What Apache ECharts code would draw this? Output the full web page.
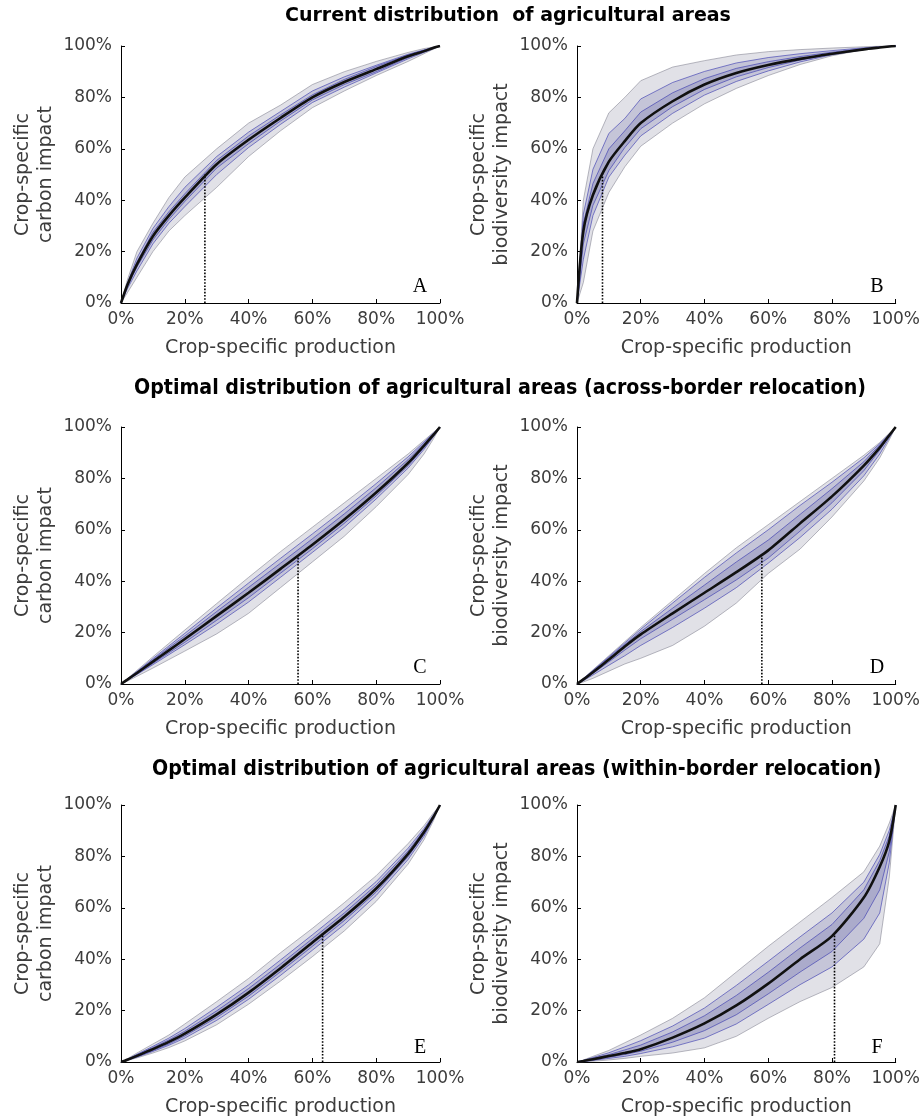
<!DOCTYPE html>
<html>
<head>
<meta charset="utf-8">
<script src="https://cdn.jsdelivr.net/npm/echarts@6/dist/echarts.min.js"></script>
<style>
  html, body { margin: 0; padding: 0; background: #fff; }
  #main { width: 923px; height: 1118px; }
</style>
</head>
<body>
<div id="main"></div>
<script>
// shared x positions (crop-specific production, %)
const xs = [0, 2, 5, 10, 15, 20, 30, 40, 50, 60, 70, 80, 90, 95, 98, 100];

// A: current, carbon
const aMed   = [0, 7, 15, 26, 34, 41, 54, 63.5, 72, 80, 86, 91, 96, 98, 99.3, 100];
const aOutHi = [0, 9, 20, 31, 41, 49, 60, 70, 77, 85, 90, 94, 97.5, 99, 99.6, 100];
const aOutLo = [0, 4, 10, 20, 28, 34, 45, 57, 67, 76, 82.5, 88.5, 94, 97, 98.8, 100];
const aMidHi = [0, 7.8, 17.5, 29, 37.5, 45, 57, 66.5, 74.5, 82.5, 88, 92.5, 96.8, 98.5, 99.5, 100];
const aMidLo = [0, 5.5, 12.5, 23, 31, 37.5, 50, 60.5, 69.5, 78, 84, 89.5, 95, 97.5, 99, 100];
const aInHi  = [0, 7.3, 16, 27.5, 35.5, 42.5, 55.5, 65, 73.2, 81, 87, 92, 96.5, 98.3, 99.4, 100];
const aInLo  = [0, 6.4, 14, 24.5, 32.5, 39.5, 52.5, 62, 70.8, 79, 85, 90, 95.5, 97.8, 99.2, 100];

// B: current, biodiversity
const bMed   = [0, 28, 42, 55, 63, 70, 78.5, 85, 89.5, 92.6, 95, 97, 98.7, 99.4, 99.8, 100];
const bOutHi = [0, 40, 60, 74, 80, 86.5, 91.8, 94.3, 96.5, 97.8, 98.6, 99.2, 99.7, 99.9, 100, 100];
const bOutLo = [0, 8, 28, 43, 53, 61, 70, 77.5, 83.5, 88.5, 92.8, 96.2, 98.6, 99.4, 99.8, 100];
const bMidHi = [0, 34.6, 52, 66, 71.8, 79.4, 85.8, 90.1, 93.4, 95.5, 97, 98.2, 99.3, 99.7, 99.9, 100];
const bMidLo = [0, 17, 34, 49, 57.5, 65, 73.8, 80.9, 86.2, 90.3, 93.8, 96.6, 98.6, 99.4, 99.8, 100];
const bInHi  = [0, 31, 46.5, 60, 67, 74.3, 81.8, 87.3, 91.3, 93.9, 95.9, 97.6, 99, 99.5, 99.85, 100];
const bInLo  = [0, 23, 38, 51.5, 60.5, 67.8, 76.4, 83.1, 88, 91.6, 94.5, 96.8, 98.7, 99.4, 99.8, 100];

// C: across-border, carbon
const cMed   = [0, 1.7, 4.3, 8.7, 13.1, 17.5, 26.5, 35.5, 44.8, 54.2, 64, 74.5, 86, 92.8, 97, 100];
const cOutHi = [0, 2.1, 5.3, 10.6, 15.8, 21, 31.3, 41.5, 51.5, 61, 70.5, 80, 89.5, 94.8, 98, 100];
const cOutLo = [0, 1.1, 3, 6.2, 9.5, 12.8, 19.5, 27.5, 37.5, 47.5, 57.5, 69, 81.5, 89.5, 95.5, 100];
const cMidHi = [0, 1.95, 4.9, 9.9, 14.8, 19.7, 29.6, 39.3, 48.9, 58.4, 68, 78, 88.4, 94.2, 97.7, 100];
const cMidLo = [0, 1.45, 3.7, 7.5, 11.4, 15.3, 23.3, 31.9, 41.5, 51.2, 61, 72, 84, 91.3, 96.3, 100];
const cInHi  = [0, 1.85, 4.65, 9.4, 14.1, 18.7, 28.2, 37.6, 47, 56.5, 66.2, 76.4, 87.3, 93.6, 97.4, 100];
const cInLo  = [0, 1.55, 3.95, 8, 12.1, 16.2, 24.8, 33.6, 43.1, 52.6, 62.5, 73.2, 84.9, 92, 96.6, 100];

// D: across-border, biodiversity
const dMed   = [0, 1.8, 4.6, 9.5, 14.6, 19.3, 27.5, 35.5, 43.5, 52, 62.5, 73, 85, 92, 96.8, 100];
const dOutHi = [0, 2.2, 5.5, 11, 16.5, 22, 32.5, 43, 53, 62, 71, 80, 89, 94, 97.6, 100];
const dOutLo = [0, 0.8, 2.2, 5, 7.8, 10, 15, 22.5, 31.5, 43, 52.5, 65, 79, 88, 95, 100];
const dMidHi = [0, 2.1, 5.3, 10.6, 16, 21.3, 31.5, 41.5, 51, 60, 69.5, 78.5, 88, 93.5, 97.3, 100];
const dMidLo = [0, 1.3, 3.5, 7.3, 11, 15, 22, 29.5, 37.5, 47, 57, 68, 81, 89.5, 95.8, 100];
const dInHi  = [0, 2, 5, 10.2, 15.4, 20.4, 29.5, 38.5, 47.5, 56, 66, 76, 86.5, 93, 97, 100];
const dInLo  = [0, 1.6, 4.1, 8.6, 13.2, 17.6, 25.2, 32.8, 40.5, 49, 59.5, 70.5, 83, 91, 96.5, 100];

// E: within-border, carbon
const eMed   = [0, 0.9, 2.4, 5, 7.8, 11, 18.5, 27, 36.5, 46.5, 56.5, 67.5, 81, 89.5, 95.5, 100];
const eOutHi = [0, 1.3, 3.5, 7, 10.5, 14.8, 23.5, 32.5, 42.5, 52, 62, 72.5, 85, 92, 97, 100];
const eOutLo = [0, 0.6, 1.6, 3.5, 5.6, 8.2, 14.5, 22.5, 31.5, 41, 51, 62.5, 77, 86.5, 94, 100];
const eMidHi = [0, 1.1, 3, 6.1, 9.3, 13, 21.3, 30, 39.7, 49.5, 59.5, 70.2, 83.2, 90.9, 96.3, 100];
const eMidLo = [0, 0.7, 1.9, 4.1, 6.5, 9.3, 16.2, 24.4, 33.7, 43.5, 53.5, 64.8, 78.8, 87.8, 94.7, 100];
const eInHi  = [0, 1, 2.7, 5.6, 8.6, 12, 19.9, 28.6, 38.1, 48, 58, 68.9, 82.1, 90.2, 95.9, 100];
const eInLo  = [0, 0.8, 2.1, 4.5, 7, 10.1, 17.3, 25.6, 35.1, 45, 55, 66.1, 79.9, 88.6, 95.1, 100];

// F: within-border, biodiversity
const fMed   = [0, 0.4, 1.1, 2.3, 3.5, 5, 9.5, 15, 22, 30.5, 40, 49, 64, 76, 86, 100];
const fOutHi = [0, 0.8, 2.2, 4.5, 7.5, 10.5, 17, 25, 35, 45, 54.5, 64, 74, 84, 93, 100];
const fOutLo = [0, 0.1, 0.3, 0.8, 1.4, 2.2, 3.5, 5.5, 10, 17, 23.5, 29, 37, 46, 72, 100];
const fMidHi = [0, 0.64, 1.76, 3.6, 5.9, 8.3, 14, 21, 29.8, 39.2, 48.7, 58, 70, 80.8, 90.2, 100];
const fMidLo = [0, 0.22, 0.62, 1.4, 2.2, 3.3, 5.9, 9.3, 14.8, 22.4, 30.1, 37, 47.8, 58, 77.6, 100];
const fInHi  = [0, 0.52, 1.4, 2.9, 4.7, 6.6, 11.7, 18, 25.9, 34.9, 44.4, 53.5, 67, 78.4, 88.1, 100];
const fInLo  = [0, 0.31, 0.86, 1.85, 2.9, 4.2, 7.7, 12.2, 18.4, 26.5, 35, 43, 55.9, 67, 81.8, 100];

// production share where the median reaches 50% impact (dotted markers)
const halfX = [26.3, 8, 55.5, 58, 63.2, 80.8];

const letters = ['A', 'B', 'C', 'D', 'E', 'F'];
const carbonName = 'Crop-specific\ncarbon impact';
const bioName = 'Crop-specific\nbiodiversity impact';
const xName = 'Crop-specific production';
const titles = [
  'Current distribution  of agricultural areas',
  'Optimal distribution of agricultural areas (across-border relocation)',
  'Optimal distribution of agricultural areas (within-border relocation)'
];

const panels = [
  { med: aMed, bands: [[aOutLo, aOutHi], [aMidLo, aMidHi], [aInLo, aInHi]], yName: carbonName },
  { med: bMed, bands: [[bOutLo, bOutHi], [bMidLo, bMidHi], [bInLo, bInHi]], yName: bioName },
  { med: cMed, bands: [[cOutLo, cOutHi], [cMidLo, cMidHi], [cInLo, cInHi]], yName: carbonName },
  { med: dMed, bands: [[dOutLo, dOutHi], [dMidLo, dMidHi], [dInLo, dInHi]], yName: bioName },
  { med: eMed, bands: [[eOutLo, eOutHi], [eMidLo, eMidHi], [eInLo, eInHi]], yName: carbonName },
  { med: fMed, bands: [[fOutLo, fOutHi], [fMidLo, fMidHi], [fInLo, fInHi]], yName: bioName }
];

// layout
const grids = [
  { left: 121, top: 46, width: 319, height: 257 },
  { left: 577, top: 46, width: 320, height: 257 },
  { left: 121, top: 427, width: 319, height: 257 },
  { left: 577, top: 427, width: 320, height: 257 },
  { left: 121, top: 805, width: 319, height: 259 },
  { left: 577, top: 805, width: 320, height: 259 }
];
const bandFill = ['rgba(205,205,215,0.6)', 'rgba(100,100,165,0.22)', 'rgba(80,80,160,0.22)'];
const bandStroke = ['rgba(120,120,135,0.65)', 'rgba(40,40,170,0.7)', 'rgba(40,40,170,0.7)'];
const font = 'DejaVu Sans';
const labelColor = '#3c3c3c';

function bandRenderer(bands) {
  return function (params, api) {
    const children = bands.map(function (b, k) {
      const pts = [];
      for (let i = 0; i < xs.length; i++) pts.push(api.coord([xs[i], b[1][i]]));
      for (let i = xs.length - 1; i >= 0; i--) pts.push(api.coord([xs[i], b[0][i]]));
      return {
        type: 'polygon',
        shape: { points: pts },
        style: { fill: bandFill[k], stroke: bandStroke[k], lineWidth: 0.8 }
      };
    });
    return { type: 'group', children: children };
  };
}

const myChart = echarts.init(document.getElementById('main'), null, { renderer: 'canvas' });

const xAxes = [], yAxes = [], series = [], graphics = [];
panels.forEach(function (p, i) {
  xAxes.push({
    gridIndex: i, type: 'value', min: 0, max: 100, interval: 20,
    name: xName, nameLocation: 'middle', nameGap: 36,
    nameTextStyle: { fontFamily: font, fontSize: 19, color: labelColor },
    axisLine: { show: true, onZero: false, lineStyle: { color: '#000', width: 1 } },
    axisTick: { show: true, inside: true, length: 4, lineStyle: { color: '#000' } },
    axisLabel: { formatter: '{value}%', fontFamily: font, fontSize: 17, color: labelColor, margin: 8, showMinLabel: true, showMaxLabel: true },
    splitLine: { show: false }
  });
  yAxes.push({
    gridIndex: i, type: 'value', min: 0, max: 100, interval: 20,
    name: p.yName, nameLocation: 'middle', nameGap: 63,
    nameTextStyle: { fontFamily: font, fontSize: 19, color: labelColor, lineHeight: 23 },
    axisLine: { show: true, onZero: false, lineStyle: { color: '#000', width: 1 } },
    axisTick: { show: true, inside: true, length: 4, lineStyle: { color: '#000' } },
    axisLabel: { formatter: '{value}%', fontFamily: font, fontSize: 17, color: labelColor, margin: 9, showMinLabel: true, showMaxLabel: true },
    splitLine: { show: false }
  });
  series.push({
    type: 'custom', xAxisIndex: i, yAxisIndex: i, silent: true, z: 1,
    renderItem: bandRenderer(p.bands),
    data: [[0, 0]]
  });
  series.push({
    type: 'line', xAxisIndex: i, yAxisIndex: i, silent: true, z: 3,
    symbol: 'none',
    lineStyle: { color: '#000', width: 1.6, type: 'dotted' },
    data: [[halfX[i], 0], [halfX[i], 50]]
  });
  series.push({
    type: 'line', xAxisIndex: i, yAxisIndex: i, silent: true, z: 4,
    symbol: 'none', smooth: 0.25,
    lineStyle: { color: '#111', width: 2.6 },
    data: xs.map(function (x, k) { return [x, p.med[k]]; })
  });
  const g = grids[i];
  graphics.push({
    type: 'text',
    x: g.left + g.width - 20, y: g.top + g.height - 16,
    style: { text: letters[i], font: '20px "Liberation Serif"', fill: '#000', align: 'center', verticalAlign: 'middle' }
  });
});

const option = {
  animation: false,
  backgroundColor: '#fff',
  title: [
    { text: titles[0], left: 285, top: 7, padding: 0, textStyle: { fontFamily: font, fontWeight: 'bold', fontSize: 19, color: '#000' } },
    { text: titles[1], left: 134, top: 378, padding: 0, textStyle: { fontFamily: 'DejaVu Sans Condensed', fontWeight: 'bold', fontSize: 21.2, color: '#000' } },
    { text: titles[2], left: 152, top: 759, padding: 0, textStyle: { fontFamily: 'DejaVu Sans Condensed', fontWeight: 'bold', fontSize: 21.2, color: '#000' } }
  ],
  grid: grids,
  xAxis: xAxes,
  yAxis: yAxes,
  series: series,
  graphic: graphics
};
myChart.setOption(option);
</script>
</body>
</html>
